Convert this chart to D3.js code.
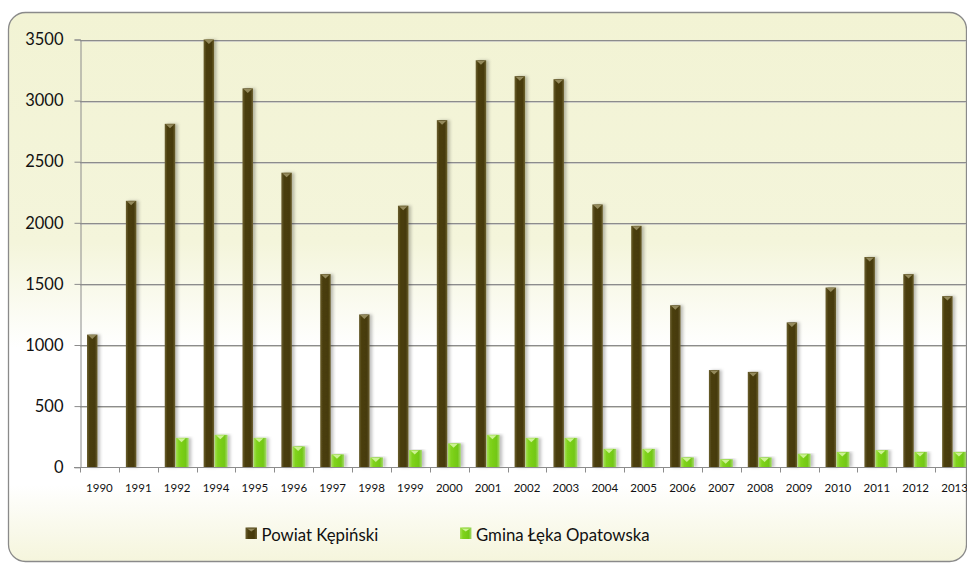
<!DOCTYPE html>
<html>
<head>
<meta charset="utf-8">
<script src="https://cdn.jsdelivr.net/npm/d3@7"></script>
<style>
  body { margin: 0; background: #fff; }
  text { font-family: Lato, "Open Sans", sans-serif; }
</style>
</head>
<body>
<div id="chart"></div>
<script>
// data
const years = ["1990","1991","1992","1994","1995","1996","1997","1998","1999","2000","2001",
  "2002","2003","2004","2005","2006","2007","2008","2009","2010","2011","2012","2013"];
const powiat = [1085, 2180, 2810, 3500, 3100, 2410, 1580, 1250, 2140, 2840, 3330,
  3200, 3175, 2150, 1975, 1325, 795, 780, 1185, 1470, 1720, 1580, 1400];
const gmina = [0, 0, 240, 265, 240, 170, 105, 80, 140, 195, 265,
  240, 240, 150, 150, 80, 65, 80, 110, 125, 140, 125, 125];
const seriesNames = ["Powiat Kępiński", "Gmina Łęka Opatowska"];
const yTicks = [0, 500, 1000, 1500, 2000, 2500, 3000, 3500];

const W = 967, H = 565;
const margin = {top: 39.5, left: 80, bottom: 467.2, right: 974};

const svg = d3.select("#chart").append("svg")
    .attr("width", W)
    .attr("height", H);

const defs = svg.append("defs");

// background of the chart frame
let bg = defs.append("linearGradient").attr("id", "bg")
    .attr("x1", 0).attr("y1", 0).attr("x2", 0).attr("y2", 1);
bg.append("stop").attr("offset", "0").attr("stop-color", "#f2f3d4");
bg.append("stop").attr("offset", "0.42").attr("stop-color", "#f4f5db");
bg.append("stop").attr("offset", "0.61").attr("stop-color", "#ffffff");
bg.append("stop").attr("offset", "0.86").attr("stop-color", "#ffffff");
bg.append("stop").attr("offset", "1").attr("stop-color", "#f5f5dc");

// bar fills
let gDark = defs.append("linearGradient").attr("id", "dark")
    .attr("x1", 0).attr("y1", 0).attr("x2", 1).attr("y2", 0);
gDark.append("stop").attr("offset", "0").attr("stop-color", "#6b6030");
gDark.append("stop").attr("offset", "0.25").attr("stop-color", "#4a3e0d");
gDark.append("stop").attr("offset", "0.75").attr("stop-color", "#463a0a");
gDark.append("stop").attr("offset", "1").attr("stop-color", "#6b6030");

let gGreen = defs.append("linearGradient").attr("id", "green")
    .attr("x1", 0).attr("y1", 0).attr("x2", 1).attr("y2", 0);
gGreen.append("stop").attr("offset", "0").attr("stop-color", "#a8e05a");
gGreen.append("stop").attr("offset", "0.25").attr("stop-color", "#80d31c");
gGreen.append("stop").attr("offset", "0.75").attr("stop-color", "#72c814");
gGreen.append("stop").attr("offset", "1").attr("stop-color", "#a6d870");

let shadow = defs.append("filter").attr("id", "shadow")
    .attr("x", "-50%").attr("y", "-5%").attr("width", "200%").attr("height", "110%");
shadow.append("feDropShadow").attr("dx", 2.5).attr("dy", 0)
    .attr("stdDeviation", 1.5).attr("flood-color", "#000").attr("flood-opacity", 0.25);

//frame
svg.append("rect")
    .attr("x", 8.5).attr("y", 12.5)
    .attr("width", 958).attr("height", 549)
    .attr("rx", 17).attr("ry", 17)
    .attr("fill", "url(#bg)")
    .attr("stroke", "#8a8a8a")
    .attr("stroke-width", 1.3);

//scales
let x = d3.scaleBand()
    .domain(years)
    .range([margin.left, margin.right])
    .padding(0);
let x1 = d3.scaleBand()
    .domain(seriesNames)
    .range([6.5, 29.5]);
let y = d3.scaleLinear()
    .domain([0, 3500])
    .range([margin.bottom, margin.top]);

//grid lines
let grid = svg.append("g");
grid.selectAll(".g2").data(yTicks.slice(1)).enter().append("line")
    .attr("x1", 80).attr("x2", 966)
    .attr("y1", d => Math.round(y(d)) + 1.5).attr("y2", d => Math.round(y(d)) + 1.5)
    .attr("stroke", "#d0d0c8").attr("stroke-width", 1);
grid.selectAll(".g1").data(yTicks.slice(1)).enter().append("line")
    .attr("x1", 80).attr("x2", 966)
    .attr("y1", d => Math.round(y(d)) + 0.5).attr("y2", d => Math.round(y(d)) + 0.5)
    .attr("stroke", "#8c8c8c").attr("stroke-width", 1);

//y axis
let yaxis = svg.append("g")
    .attr("transform", "translate(80.5,0)")
    .call(d3.axisLeft(y).tickValues(yTicks).tickFormat(d3.format("d")).tickSize(6).tickPadding(11));
yaxis.select(".domain").attr("stroke", "#8c8c8c");
yaxis.selectAll(".tick line").attr("stroke", "#8c8c8c");
yaxis.selectAll(".tick text")
    .attr("font-size", "16.5px")
    .attr("fill", "#111")
    .style("font-family", "Lato");

//bars
const table = years.map((yr, i) => ({year: yr, values: [powiat[i], gmina[i]]}));
const fills = ["url(#dark)", "url(#green)"];
const caps = ["#948a5c", "#cdf294"];

let groups = svg.append("g")
    .selectAll("g")
    .data(table)
    .enter().append("g")
    .attr("transform", d => "translate(" + x(d.year) + ",0)");

let bars = groups.selectAll("g")
    .data(d => d.values.map((v, k) => ({key: seriesNames[k], k: k, v: v})).filter(e => e.v > 0))
    .enter().append("g");

bars.append("rect")
    .attr("x", d => x1(d.key) + (d.k === 0 ? 0.5 : 0))
    .attr("y", d => y(d.v))
    .attr("width", d => x1.bandwidth() - (d.k === 0 ? 1 : -1.5))
    .attr("height", d => y(0) - y(d.v))
    .attr("fill", d => fills[d.k])
    .attr("filter", "url(#shadow)");

//little bevel on top of each bar
bars.append("path")
    .attr("d", function(d){
        let x0 = x1(d.key) + 1.5, w = x1.bandwidth() - 3, t = y(d.v) + 0.5;
        return "M" + x0 + "," + t + "L" + (x0 + w) + "," + t + "L" + (x0 + w / 2) + "," + (t + 4) + "Z";
    })
    .attr("fill", d => caps[d.k]);

//x axis
let xaxis = svg.append("g");
xaxis.append("line")
    .attr("x1", 74).attr("x2", 966)
    .attr("y1", 467.5).attr("y2", 467.5)
    .attr("stroke", "#8c8c8c");
xaxis.selectAll(".xt").data(years).enter().append("line")
    .attr("x1", d => Math.round(x(d)) + 0.5).attr("x2", d => Math.round(x(d)) + 0.5)
    .attr("y1", 467.5).attr("y2", 472.5)
    .attr("stroke", "#8c8c8c");
xaxis.selectAll("text").data(years).enter().append("text")
    .attr("x", d => x(d) + x.bandwidth() / 2)
    .attr("y", 491.5)
    .attr("text-anchor", "middle")
    .attr("font-size", "11.5px")
    .attr("fill", "#111")
    .text(d => d);

//legend
const legendX = [245.5, 460];
let legend = svg.append("g")
    .selectAll("g")
    .data(seriesNames)
    .enter().append("g")
    .attr("transform", (d, i) => "translate(" + legendX[i] + ",527.5)");
legend.append("rect")
    .attr("width", 11.5).attr("height", 11.5)
    .attr("fill", (d, i) => fills[i]);
legend.append("path")
    .attr("d", "M1.5,1L10,1L5.75,4Z")
    .attr("fill", (d, i) => caps[i]);
legend.append("text")
    .attr("x", 16)
    .attr("y", 13.8)
    .attr("font-size", "16.8px")
    .attr("fill", "#111")
    .text(d => d);
</script>
</body>
</html>
